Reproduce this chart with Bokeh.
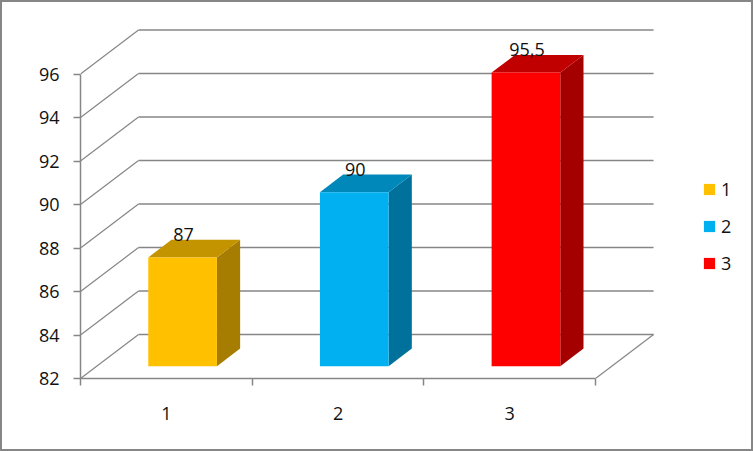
from bokeh.plotting import figure
from bokeh.embed import file_html
from bokeh.resources import INLINE
from bokeh.models import Range1d, FixedTicker, Legend, LegendItem, InlineStyleSheet
from bokeh.core.properties import value

categories = [1, 2, 3]
values = [87, 90, 95.5]
labels = ["87", "90", "95,5"]
front_colors = ["#FFC000", "#00B0F0", "#FF0000"]
top_colors = ["#C49400", "#0088BA", "#C00000"]
side_colors = ["#A67D00", "#00719B", "#A50000"]
y_ticks = [82, 84, 86, 88, 90, 92, 94, 96]
cat_edges = [0.5, 1.5, 2.5, 3.5]

FONT = "Open Sans"
FS = "18px"
GREY = "#868686"
TEXT = "#111111"

# Depth of the pseudo-3D box, in data units
dx, dy = 0.338, 2.023
near, far = 0.28, 0.68
half = 0.2

frame_css = InlineStyleSheet(css=":host::after {content: ''; position: absolute; left: 0; top: 0; right: 0; bottom: 0; "
                                 "border: 2px solid #868686; pointer-events: none; z-index: 100;}")

p = figure(width=753, height=451, output_backend="svg", toolbar_location=None,
           x_range=Range1d(0.5, 4.42), y_range=Range1d(82, 99.38),
           min_border_left=80, min_border_bottom=73, min_border_top=0, min_border_right=0,
           background_fill_color="white", border_fill_color="white", outline_line_color=None,
           stylesheets=[frame_css])
p.grid.visible = False

# Left axis
p.yaxis.ticker = FixedTicker(ticks=y_ticks)
p.yaxis.bounds = (82, 96)
p.yaxis.axis_line_color = GREY
p.yaxis.axis_line_width = 1.5
p.yaxis.major_tick_line_color = GREY
p.yaxis.major_tick_line_width = 1.5
p.yaxis.major_tick_out = 7
p.yaxis.major_tick_in = 0
p.yaxis.minor_tick_out = 0
p.yaxis.minor_tick_in = 0
p.yaxis.major_label_standoff = 14
p.yaxis.major_label_text_font = FONT
p.yaxis.major_label_text_font_size = FS
p.yaxis.major_label_text_color = TEXT

# Bottom axis
p.xaxis.ticker = FixedTicker(ticks=categories, minor_ticks=cat_edges)
p.xaxis.bounds = (0.5, 3.5)
p.xaxis.axis_line_color = GREY
p.xaxis.axis_line_width = 1.5
p.xaxis.major_tick_out = 0
p.xaxis.major_tick_in = 0
p.xaxis.minor_tick_line_color = GREY
p.xaxis.minor_tick_line_width = 1.5
p.xaxis.minor_tick_out = 7
p.xaxis.minor_tick_in = 0
p.xaxis.major_label_standoff = 21
p.xaxis.major_label_text_font = FONT
p.xaxis.major_label_text_font_size = FS
p.xaxis.major_label_text_color = TEXT

# Back wall and side wall lines
back_xs = [[0.5 + dx, 3.5 + dx] for _ in y_ticks]
back_ys = [[v + dy, v + dy] for v in y_ticks]
p.multi_line(back_xs, back_ys, line_color=GREY, line_width=1.5)
side_xs = [[0.5, 0.5 + dx] for _ in y_ticks]
side_ys = [[v, v + dy] for v in y_ticks]
p.multi_line(side_xs, side_ys, line_color=GREY, line_width=1.2)
p.line([3.5, 3.5 + dx], [82, 82 + dy], line_color=GREY, line_width=1.2)

# Bars
items = []
for c, v, lab, fc, tc, sc in zip(categories, values, labels, front_colors, top_colors, side_colors):
    xl = c - half + near * dx
    xr = c + half + near * dx
    yb = 82 + near * dy
    yt = v + near * dy
    ddx = (far - near) * dx
    ddy = (far - near) * dy
    p.patch([xr, xr + ddx, xr + ddx, xr], [yb, yb + ddy, yt + ddy, yt], fill_color=sc, line_color=None)
    p.patch([xl, xr, xr + ddx, xl + ddx], [yt, yt, yt + ddy, yt + ddy], fill_color=tc, line_color=None)
    r = p.quad(left=[xl], right=[xr], bottom=[yb], top=[yt], fill_color=fc, line_color=None)
    items.append(LegendItem(label=str(c), renderers=[r]))
    p.text(x=[(xl + xr) / 2], y=[yt], text=[lab], text_font=value(FONT), text_font_size=FS,
           text_color=TEXT, text_align="center", text_baseline="middle", x_offset=1, y_offset=-23)

legend = Legend(items=items, location=(622, 103), orientation="vertical",
                glyph_width=14, glyph_height=14, spacing=13, padding=0, margin=0,
                label_standoff=5, label_text_font=FONT, label_text_font_size=FS,
                label_text_color=TEXT, label_height=18,
                background_fill_alpha=0, border_line_color=None)
p.add_layout(legend)

open("out.html", "w").write(file_html(p, INLINE))
